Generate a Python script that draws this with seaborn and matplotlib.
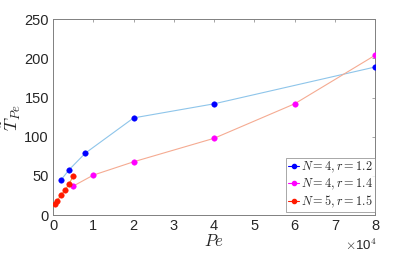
import matplotlib
matplotlib.use("Agg")
import matplotlib.pyplot as plt
import seaborn as sns
import pandas as pd
from matplotlib.lines import Line2D

# N = 4, r = 1.2
pe_a = [2000, 4000, 8000, 20000, 40000, 80000]
t_a = [45, 58, 79, 124, 142, 189]
# N = 4, r = 1.4
pe_b = [5000, 10000, 20000, 40000, 60000, 80000]
t_b = [37, 51, 68, 98, 142, 204]
# N = 5, r = 1.5
pe_c = [500, 1000, 2000, 3000, 4000, 5000]
t_c = [14, 18, 26, 32, 40, 50]

labels = ["$N=4, r=1.2$", "$N=4, r=1.4$", "$N=5, r=1.5$"]
marker_colors = ["#0000ff", "#ff00ff", "#ff1a00"]
line_colors = ["#8ec5ea", "#f5ab92", "#f5a040"]

sns.set_style("white")
plt.rcParams['font.family'] = ['Liberation Sans', 'DejaVu Sans']
plt.rcParams['mathtext.fontset'] = 'cm'

fig = plt.figure(figsize=(4.15, 2.56), dpi=100)
ax = fig.add_axes([0.128, 0.160, 0.776, 0.765])

series = [(pe_a, t_a), (pe_b, t_b), (pe_c, t_c)]
for (x, y), mc, lc in zip(series, marker_colors, line_colors):
    df = pd.DataFrame({"Pe": x, "T": y})
    sns.lineplot(data=df, x="Pe", y="T", ax=ax, color=lc, linewidth=0.8, sort=False)
    sns.scatterplot(data=df, x="Pe", y="T", ax=ax, color=mc, s=16, edgecolor=mc,
                    linewidth=0.3, zorder=3)

ax.set_xlim(0, 80000)
ax.set_ylim(0, 250)
ax.set_xticks([i * 10000 for i in range(9)])
ax.set_xticklabels([str(i) for i in range(9)])
ax.set_yticks([0, 50, 100, 150, 200, 250])
ax.set_xlabel("$Pe$", fontsize=12, labelpad=0)
ax.set_ylabel(r"$\tilde{T}_{Pe}$", fontsize=13, labelpad=1)
ax.tick_params(direction="in", length=2.5, width=0.5, color="#808080",
               labelsize=10.5, pad=3, top=True, right=True, labelcolor="#262626")
for s in ax.spines.values():
    s.set_color("#808080")
    s.set_linewidth(0.7)
# offset text for x axis
fig.text(0.831, 0.022, r"$\times$10$^4$", fontsize=9.5, color="#262626")

handles = [Line2D([0], [0], color=mc, marker="o", markersize=3, linewidth=0.8)
           for mc in marker_colors]
leg = ax.legend(handles, labels, loc="lower right", bbox_to_anchor=(1.0, 0.015),
                fontsize=8.8, frameon=True, fancybox=False, handlelength=0.9,
                handletextpad=0.15, borderpad=0.2, labelspacing=0.12,
                borderaxespad=0.0)
leg.get_frame().set_edgecolor("#808080")
leg.get_frame().set_linewidth(0.6)

fig.savefig("out.png", dpi=100)
